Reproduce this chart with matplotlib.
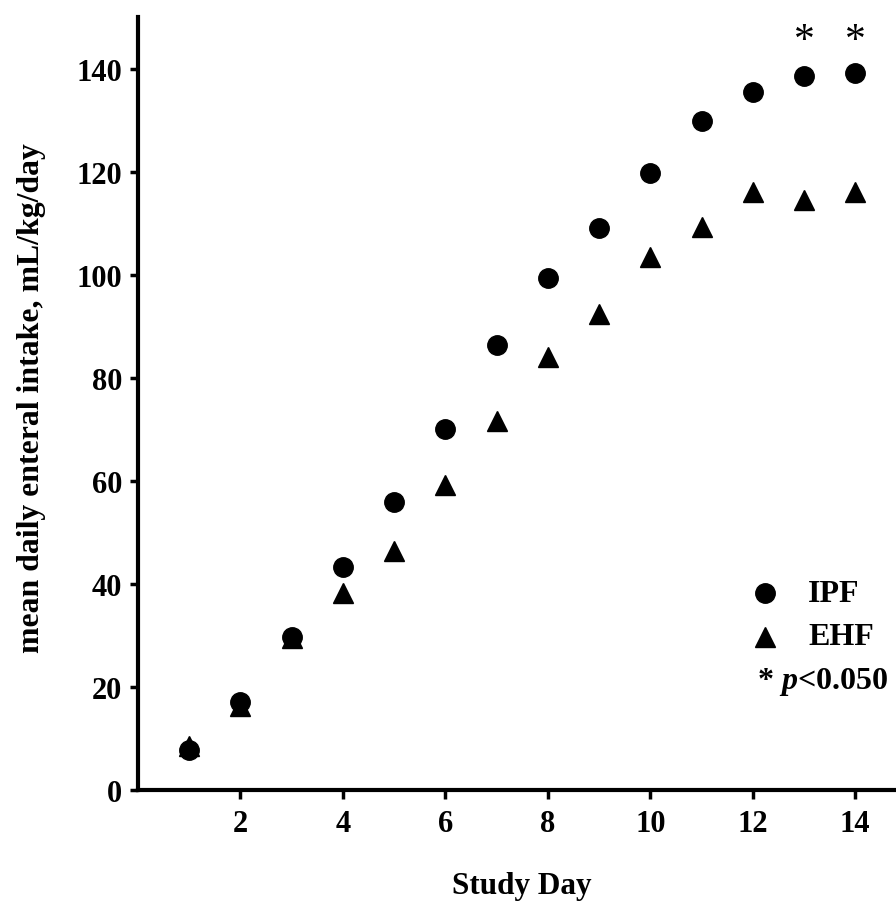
import matplotlib
matplotlib.use("Agg")
import matplotlib.pyplot as plt

days = [1, 2, 3, 4, 5, 6, 7, 8, 9, 10, 11, 12, 13, 14]
ipf = [7.8, 17.0, 29.6, 43.3, 55.8, 70.0, 86.3, 99.3, 109.1, 119.8, 129.8, 135.4, 138.6, 139.2]
ehf = [8.6, 16.3, 29.4, 38.3, 46.4, 59.1, 71.6, 84.1, 92.4, 103.4, 109.3, 116.0, 114.5, 116.1]
sig_days = [13, 14]
xticks = [2, 4, 6, 8, 10, 12, 14]
yticks = [0, 20, 40, 60, 80, 100, 120, 140]

plt.rcParams['font.family'] = ['Liberation Serif', 'DejaVu Serif']
plt.rcParams['font.weight'] = 'bold'
plt.rcParams['mathtext.fontset'] = 'custom'
plt.rcParams['mathtext.it'] = 'Liberation Serif:italic:bold'
plt.rcParams['mathtext.rm'] = 'Liberation Serif:bold'

fig = plt.figure(figsize=(8.96, 9.04), dpi=100)
ax = fig.add_axes([137.75/896, (904-791)/904, (896-137.75)/896, (791-18)/904])
ax.set_xlim(0, (896-137.75)/51.25)
ax.set_ylim(0, 150)

ax.plot(days, ipf, 'o', color='black', markersize=14, linestyle='none', clip_on=False)
ax.plot(days, ehf, '^', color='black', markersize=15, linestyle='none', clip_on=False)

for d in sig_days:
    ax.text(d, 145.3, '*', ha='center', va='center', fontsize=30, fontweight='normal')

for s in ['top', 'right']:
    ax.spines[s].set_visible(False)
for s in ['left', 'bottom']:
    ax.spines[s].set_linewidth(3)

ax.set_xticks(xticks)
ax.set_yticks(yticks)
ax.tick_params(axis='x', direction='out', length=6.5, width=2.5, labelsize=22, pad=7)
ax.tick_params(axis='y', direction='out', length=6, width=2.5, labelsize=22, pad=5)
for lab in ax.get_xticklabels() + ax.get_yticklabels():
    lab.set_fontweight('bold')

ax.text(0.5068, -0.124, 'Study Day', fontsize=22.5, fontweight='bold',
        ha='center', va='center', transform=ax.transAxes)
ax.text(-0.1395, 0.5084, 'mean daily enteral intake, mL/kg/day', fontsize=22.9,
        fontweight='bold', rotation=90, ha='center', va='center', transform=ax.transAxes)

# legend
ax.plot([12.23], [38.2], 'o', color='black', markersize=14)
ax.plot([12.23], [29.7], '^', color='black', markersize=15)
ax.text(13.08, 38.2, 'IPF', fontsize=23, fontweight='bold', va='center', ha='left')
ax.text(13.08, 29.7, 'EHF', fontsize=23, fontweight='bold', va='center', ha='left')
ax.text(12.09, 21.1, r'* $p$<0.050', fontsize=23, fontweight='bold', va='center', ha='left')

fig.savefig('out.png', dpi=100)
